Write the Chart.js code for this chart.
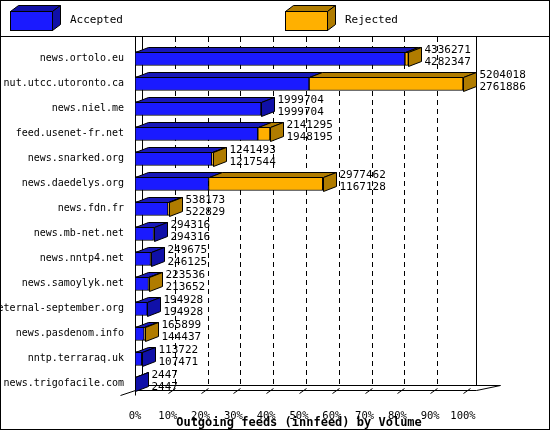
<!DOCTYPE html>
<html><head><meta charset="utf-8">
<script src="https://cdn.jsdelivr.net/npm/chart.js@4"></script>
<style>body{margin:0;background:#fff}#wrap{width:550px;height:430px;position:relative}</style>
</head><body><div id="wrap"><canvas id="c" width="550" height="430"></canvas></div>
<script>
const hosts = ['news.ortolo.eu','nut.utcc.utoronto.ca','news.niel.me','feed.usenet-fr.net','news.snarked.org',
  'news.daedelys.org','news.fdn.fr','news.mb-net.net','news.nntp4.net','news.samoylyk.net',
  'eternal-september.org','news.pasdenom.info','nntp.terraraq.uk','news.trigofacile.com'];
const offered = [4336271,5204018,1999704,2141295,1241493,2977462,538173,294316,249675,223536,194928,165899,113722,2447];
const accepted = [4282347,2761886,1999704,1948195,1217544,1167128,522829,294316,246125,213652,194928,144437,107471,2447];
const tickLabels = ['0%','10%','20%','30%','40%','50%','60%','70%','80%','90%','100%'];

const maxVal = Math.max(...offered);
const accPct = accepted.map(v => v / maxVal * 100);
const rejPct = offered.map((v, i) => (v - accepted[i]) / maxVal * 100);

const FONT = '"DejaVu Sans Mono", monospace';
const DX = 13, DY = 5;

// faces 3D, grille, légende, cadre
const deco = {
  id: 'deco',
  beforeDatasetsDraw(chart) {
    const { ctx, chartArea: a, scales: { x } } = chart;
    const fl = 385.5;
    ctx.save();
    ctx.strokeStyle = '#000'; ctx.lineWidth = 1;
    ctx.setLineDash([5, 4]);
    for (let i = 1; i <= 9; i++) {
      const px = Math.round(x.getPixelForValue(i * 10)) + 7.5;
      ctx.beginPath(); ctx.moveTo(px, 37); ctx.lineTo(px, fl); ctx.stroke();
    }
    ctx.setLineDash([]);
    const x0 = Math.round(x.getPixelForValue(0)) + 0.5;
    const x1 = Math.round(x.getPixelForValue(100)) + 0.5;
    ctx.beginPath();
    ctx.moveTo(x0 + 7, 37); ctx.lineTo(x0 + 7, fl);
    ctx.moveTo(x1 + 13, 37); ctx.lineTo(x1 + 13, fl);
    ctx.moveTo(x0 + 7, fl); ctx.lineTo(x1 + 37, fl);
    ctx.moveTo(x0 - 15, fl + 10); ctx.lineTo(x0, fl + 5); ctx.lineTo(x1 + 13, fl + 5); ctx.lineTo(x1 + 37, fl);
    ctx.moveTo(x0, 37); ctx.lineTo(x0, fl + 10);
    for (let i = 1; i <= 10; i++) {
      const px = Math.round(x.getPixelForValue(i * 10)) + 0.5;
      ctx.moveTo(px, fl + 8); ctx.lineTo(px + 7, fl + 3);
    }
    ctx.stroke();
    ctx.restore();
  },
  afterDatasetsDraw(chart) {
    const { ctx, scales: { x } } = chart;
    const m0 = chart.getDatasetMeta(0), m1 = chart.getDatasetMeta(1);
    ctx.save();
    ctx.strokeStyle = '#000'; ctx.lineWidth = 1;
    const poly = (pts, fill) => {
      ctx.beginPath(); ctx.moveTo(pts[0][0], pts[0][1]);
      pts.slice(1).forEach(p => ctx.lineTo(p[0], p[1]));
      ctx.closePath(); ctx.fillStyle = fill; ctx.fill(); ctx.stroke();
    };
    hosts.forEach((h, i) => {
      const b0 = m0.data[i], b1 = m1.data[i];
      const top = Math.round(b0.y - b0.height / 2) + 0.5, bot = Math.round(b0.y + b0.height / 2) + 0.5;
      const xs = Math.round(x.getPixelForValue(0)) + 0.5;
      const xa = Math.round(b0.x) + 0.5, xe = Math.round(b1.x) + 0.5;
      poly([[xs, top], [xs + DX, top - DY], [xa + DX, top - DY], [xa, top]], '#1818b8');
      if (xe > xa) poly([[xa, top], [xa + DX, top - DY], [xe + DX, top - DY], [xe, top]], '#b07c00');
      const side = xe > xa ? '#b07c00' : '#1010a8';
      poly([[xe, top], [xe + DX, top - DY], [xe + DX, bot - DY], [xe, bot]], side);
      ctx.fillStyle = '#000'; ctx.font = '11px ' + FONT; ctx.textBaseline = 'middle'; ctx.textAlign = 'left';
      ctx.fillText(String(offered[i]), xe + DX + 3, b0.y - 8);
      ctx.fillText(String(accepted[i]), xe + DX + 3, b0.y + 4);
    });
    ctx.restore();
  },
  afterDraw(chart) {
    const { ctx } = chart;
    ctx.save();
    ctx.strokeStyle = '#000'; ctx.lineWidth = 1;
    ctx.strokeRect(0.5, 0.5, 549, 429);
    ctx.beginPath(); ctx.moveTo(0, 36.5); ctx.lineTo(550, 36.5); ctx.stroke();
    const box = (x0, front, dark, label) => {
      ctx.fillStyle = front; ctx.fillRect(x0, 11, 42, 19); ctx.strokeRect(x0 + 0.5, 11.5, 42, 19);
      ctx.beginPath(); ctx.moveTo(x0 + 0.5, 11.5); ctx.lineTo(x0 + 8.5, 5.5); ctx.lineTo(x0 + 50.5, 5.5); ctx.lineTo(x0 + 42.5, 11.5); ctx.closePath();
      ctx.fillStyle = dark; ctx.fill(); ctx.stroke();
      ctx.beginPath(); ctx.moveTo(x0 + 42.5, 11.5); ctx.lineTo(x0 + 50.5, 5.5); ctx.lineTo(x0 + 50.5, 24.5); ctx.lineTo(x0 + 42.5, 30.5); ctx.closePath();
      ctx.fill(); ctx.stroke();
      ctx.fillStyle = '#000'; ctx.font = '11px ' + FONT; ctx.textBaseline = 'middle';
      ctx.fillText(label, x0 + 60, 20);
    };
    box(10, '#1a1aff', '#1010a8', 'Accepted');
    box(285, '#ffb000', '#b07c00', 'Rejected');
    ctx.restore();
  }
};

new Chart(document.getElementById('c'), {
  type: 'bar',
  data: {
    labels: hosts,
    datasets: [
      { label: 'Accepted', data: accPct, backgroundColor: '#1a1aff', borderColor: '#000', borderWidth: 1, borderSkipped: false },
      { label: 'Rejected', data: rejPct, backgroundColor: '#ffb000', borderColor: '#000', borderWidth: 1, borderSkipped: false }
    ]
  },
  options: {
    indexAxis: 'y', responsive: false, animation: false,
    barThickness: 14,
    layout: { padding: { top: 46, right: 87, left: 0, bottom: 0 } },
    plugins: { legend: { display: false }, tooltip: { enabled: false } },
    scales: {
      x: {
        stacked: true, min: 0, max: 100,
        grid: { display: false }, border: { display: false },
        ticks: { stepSize: 10, color: '#000', font: { family: FONT, size: 10.5 }, padding: 6,
          callback: (v, i) => tickLabels[i] },
        title: { display: true, text: 'Outgoing feeds (innfeed) by Volume', color: '#000',
          font: { family: FONT, size: 12, weight: 'bold' }, padding: 0 },
        afterFit: s => { s.height = 34; }
      },
      y: {
        stacked: true,
        grid: { display: false }, border: { display: false },
        ticks: { color: '#000', font: { family: FONT, size: 10 }, padding: 3 },
        afterFit: s => { s.width = 135; }
      }
    }
  },
  plugins: [deco]
});
</script></body></html>
